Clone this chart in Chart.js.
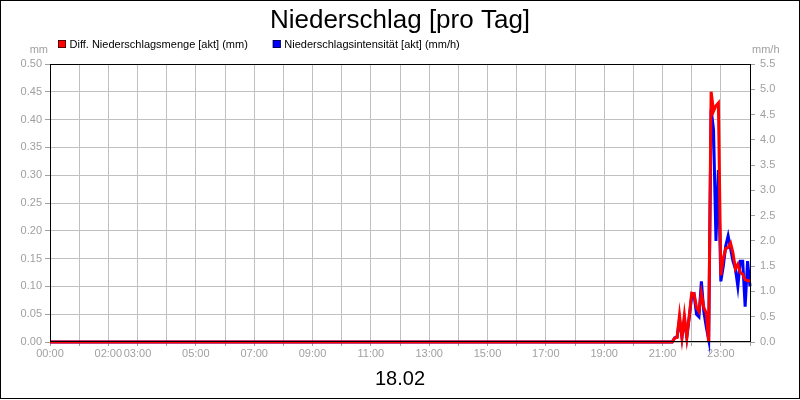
<!DOCTYPE html>
<html>
<head>
<meta charset="utf-8">
<script src="https://cdn.jsdelivr.net/npm/chart.js@4.4.1/dist/chart.umd.min.js"></script>
<style>
  html, body { margin: 0; padding: 0; background: #fff; }
  #wrap { width: 800px; height: 400px; }
</style>
</head>
<body>
<div id="wrap"><canvas id="c" width="800" height="400"></canvas></div>
<script>
// ---- data ----
const chartTitle = 'Niederschlag [pro Tag]';
const dateLabel = '18.02';
const seriesNames = ['Diff. Niederschlagsmenge [akt] (mm)', 'Niederschlagsintensität [akt] (mm/h)'];
const axisUnits = ['mm', 'mm/h'];
const xTickLabels = ['00:00','02:00','03:00','05:00','07:00','09:00','11:00','13:00','15:00','17:00','19:00','21:00','23:00'];
const times = ['00:00','21:20','21:25','21:30','21:35','21:40','21:45','21:50','21:55','22:00','22:05',
  '22:10','22:15','22:20','22:25','22:30','22:35','22:40','22:45','22:50','22:55','23:00','23:05',
  '23:10','23:15','23:20','23:25','23:30','23:35','23:40','23:45','23:50','23:55','24:00'];
const rainMm = [0,0,0.007,0.008,0.048,0.008,0.048,0.008,0.045,0.088,0.087,
  0.062,0.055,0.088,0.062,0.052,0,0.45,0.415,0.425,0.43,0.12,0.15,
  0.168,0.17,0.178,0.16,0.132,0.14,0.125,0.122,0.112,0.11,0.11];
const intensityMmh = [0,0,0.08,0.1,0.45,0.1,0.45,0.1,0.5,0.9,0.94,
  0.55,0.5,1.2,0.6,0.3,0.05,4.6,4.2,2.0,3.4,1.2,1.5,
  1.9,2.1,1.85,1.6,1.45,1.1,1.6,1.6,0.7,1.6,1.1];

// ---- helpers ----
function toHours(t) { const p = t.split(':'); return Number(p[0]) + Number(p[1]) / 60; }
function pts(vals) { return times.map((t, i) => ({ x: toHours(t), y: vals[i] })); }

const FONT = '"Liberation Sans", Arial, sans-serif';
const GREY = '#a0a0a0';
Chart.defaults.font.family = FONT;

const decor = {
  id: 'decor',
  beforeDraw(chart) {
    const ctx = chart.ctx;
    ctx.save();
    ctx.fillStyle = '#fff';
    ctx.fillRect(0, 0, chart.width, chart.height);
    ctx.restore();
  },
  afterDatasetsDraw(chart) {
    const ctx = chart.ctx, a = chart.chartArea;
    ctx.save();
    ctx.strokeStyle = '#000';
    ctx.lineWidth = 1;
    ctx.strokeRect(Math.round(a.left) + 0.5, Math.round(a.top) + 0.5,
      Math.round(a.right - a.left), Math.round(a.bottom - a.top) - 1);
    ctx.restore();
  },
  afterDraw(chart) {
    const ctx = chart.ctx, a = chart.chartArea;
    ctx.save();
    // title
    ctx.fillStyle = '#000';
    ctx.font = '26px ' + FONT;
    ctx.textAlign = 'center';
    ctx.textBaseline = 'alphabetic';
    ctx.fillText(chartTitle, chart.width / 2, 28);
    // legend
    ctx.font = '11px ' + FONT;
    ctx.textAlign = 'left';
    let x = 58;
    chart.data.datasets.forEach(ds => {
      ctx.fillStyle = ds.borderColor;
      ctx.fillRect(x, 40, 8, 8);
      ctx.strokeStyle = '#000';
      ctx.lineWidth = 0.6;
      ctx.strokeRect(x + 0.3, 40.3, 7.4, 7.4);
      ctx.fillStyle = '#000';
      ctx.fillText(ds.label, x + 11.5, 47.5);
      x += 11.5 + ctx.measureText(ds.label).width + 25;
    });
    // units
    ctx.fillStyle = GREY;
    ctx.textAlign = 'right';
    ctx.fillText(axisUnits[0], a.left - 2, 53);
    ctx.textAlign = 'left';
    ctx.fillText(axisUnits[1], a.right + 2, 53);
    // date
    ctx.fillStyle = '#000';
    ctx.font = '20px ' + FONT;
    ctx.textAlign = 'center';
    ctx.fillText(dateLabel, chart.width / 2, 384.5);
    // outer frame
    ctx.strokeStyle = '#000';
    ctx.lineWidth = 1;
    ctx.strokeRect(0.5, 0.5, 799, 398);
    ctx.restore();
  }
};

new Chart(document.getElementById('c'), {
  type: 'line',
  data: {
    datasets: [
      { label: seriesNames[0], data: pts(rainMm), yAxisID: 'y',
        borderColor: '#ff0000', backgroundColor: '#ff0000', borderWidth: 3,
        pointRadius: 0, tension: 0, fill: false, clip: false },
      { label: seriesNames[1], data: pts(intensityMmh), yAxisID: 'y2',
        borderColor: '#0000ff', backgroundColor: '#0000ff', borderWidth: 3,
        pointRadius: 0, tension: 0, fill: false, clip: false }
    ]
  },
  options: {
    responsive: false,
    animation: false,
    devicePixelRatio: 1,
    layout: { padding: { top: 64, left: 0, right: 0, bottom: 0 } },
    plugins: { legend: { display: false }, title: { display: false }, tooltip: { enabled: false } },
    scales: {
      x: {
        type: 'linear', min: 0, max: 24,
        afterFit(s) { s.height = 58; },
        border: { display: false },
        grid: { color: '#c0c0c0', lineWidth: 1, tickLength: 4, tickColor: '#a0a0a0' },
        ticks: {
          stepSize: 1, autoSkip: false, maxRotation: 0, minRotation: 0, padding: 1,
          color: GREY, font: { size: 11 },
          callback(v) {
            const s = String(Math.round(v)).padStart(2, '0') + ':00';
            return xTickLabels.includes(s) ? s : '';
          }
        }
      },
      y: {
        position: 'left', min: 0, max: 0.5,
        afterFit(s) { s.width = 50; },
        border: { display: false },
        grid: { color: '#c0c0c0', lineWidth: 1, tickLength: 5, tickColor: '#a0a0a0' },
        ticks: { stepSize: 0.05, color: GREY, font: { size: 11 }, padding: 3,
          callback(v) { return Number(v).toFixed(2); } }
      },
      y2: {
        position: 'right', min: 0, max: 5.5,
        afterFit(s) { s.width = 50; },
        border: { display: false },
        grid: { drawOnChartArea: false, tickLength: 5, tickColor: '#a0a0a0' },
        ticks: { stepSize: 0.5, color: GREY, font: { size: 11 }, padding: 5,
          callback(v) { return Number(v).toFixed(1); } }
      }
    }
  },
  plugins: [decor]
});
</script>
</body>
</html>
